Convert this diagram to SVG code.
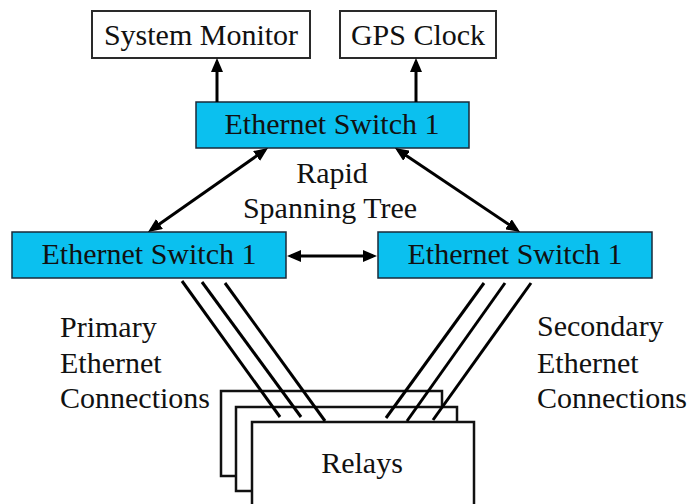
<svg xmlns="http://www.w3.org/2000/svg" width="691" height="504" viewBox="0 0 691 504" font-family="Liberation Serif, DejaVu Serif, serif">
<style>
  text { font-family: "Liberation Serif", "DejaVu Serif", serif; font-size: 30px; fill: #111; }
  .c { text-anchor: middle; }
  .plain { fill: #fff; stroke: #2a2a2a; stroke-width: 2; }
  .switch { fill: #0BC0EF; stroke: #1a2a3a; stroke-width: 1.5; }
  .relay { fill: #fff; stroke: #111; stroke-width: 2.5; }
  .arrow { stroke: #000; stroke-width: 3; fill: none; }
  .wire { stroke: #000; stroke-width: 3; fill: none; }
</style>
<defs>
  <marker id="ah" markerUnits="userSpaceOnUse" markerWidth="14" markerHeight="12" refX="10" refY="6" orient="auto-start-reverse">
    <path d="M0,0 L14,6 L0,12 z" fill="#000"/>
  </marker>
</defs>
<rect width="691" height="504" fill="#fff"/>

<g id="system-monitor">
  <rect class="plain" x="92" y="11" width="218" height="47"/>
  <text class="c" x="201" y="45">System Monitor</text>
</g>
<g id="gps-clock">
  <rect class="plain" x="340" y="11" width="156" height="47"/>
  <text class="c" x="418" y="45">GPS Clock</text>
</g>
<g id="switch-top">
  <rect class="switch" x="196" y="102" width="273" height="46"/>
  <text class="c" x="332" y="134">Ethernet Switch 1</text>
</g>
<g id="switch-left">
  <rect class="switch" x="12" y="232" width="274" height="46"/>
  <text class="c" x="149" y="264">Ethernet Switch 1</text>
</g>
<g id="switch-right">
  <rect class="switch" x="378" y="232" width="274" height="46"/>
  <text class="c" x="515" y="264">Ethernet Switch 1</text>
</g>
<g id="relays">
  <rect class="relay" x="221" y="391" width="221" height="85"/>
  <rect class="relay" x="236" y="407" width="221" height="84"/>
  <rect class="relay" x="252" y="422" width="222" height="100"/>
  <text class="c" x="362" y="473">Relays</text>
</g>
<g id="label-rstp">
  <text class="c" x="332" y="183">Rapid</text>
  <text class="c" x="330" y="218">Spanning Tree</text>
</g>
<g id="label-primary">
  <text x="60" y="337">Primary</text>
  <text x="60" y="373">Ethernet</text>
  <text x="60" y="408">Connections</text>
</g>
<g id="label-secondary">
  <text x="537" y="336">Secondary</text>
  <text x="537" y="373">Ethernet</text>
  <text x="537" y="408">Connections</text>
</g>

<g id="connectors">
  <line class="arrow" x1="217" y1="102" x2="217" y2="62" marker-end="url(#ah)"/>
  <line class="arrow" x1="416" y1="102" x2="416" y2="62" marker-end="url(#ah)"/>
  <line class="arrow" x1="264.7" y1="150.3" x2="151.3" y2="229.7" marker-start="url(#ah)" marker-end="url(#ah)"/>
  <line class="arrow" x1="398.3" y1="150.2" x2="516.7" y2="229.8" marker-start="url(#ah)" marker-end="url(#ah)"/>
  <line class="arrow" x1="291" y1="256" x2="373" y2="256" marker-start="url(#ah)" marker-end="url(#ah)"/>
  <line class="wire" x1="182" y1="281" x2="280" y2="417"/>
  <line class="wire" x1="202" y1="282" x2="301" y2="417"/>
  <line class="wire" x1="225" y1="283" x2="325" y2="421"/>
  <line class="wire" x1="484" y1="283" x2="386" y2="418"/>
  <line class="wire" x1="505" y1="283" x2="407" y2="421"/>
  <line class="wire" x1="531" y1="283" x2="433" y2="420"/>
</g>
</svg>
